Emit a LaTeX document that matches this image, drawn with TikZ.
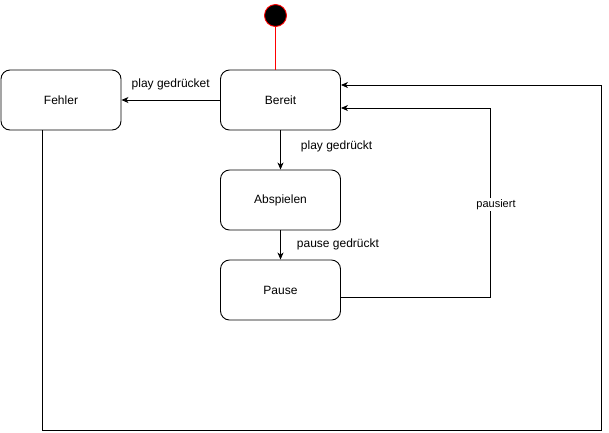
\documentclass[tikz,border=0pt]{standalone}
\usepackage{fontspec}
\setmainfont{Liberation Sans}
\usetikzlibrary{arrows.meta}

\begin{document}
\begin{tikzpicture}[x=1pt,y=-1pt,line width=0.9pt]

\tikzset{zustand/.style={draw, rounded corners=9pt, minimum width=120pt, minimum height=60pt, inner sep=0pt, font=\fontsize{12}{14}\selectfont}};
\tikzset{pfeil/.style={-{Stealth[length=7pt,width=6pt,inset=2pt]}}};
\tikzset{marke/.style={inner sep=0pt, font=\fontsize{12}{14}\selectfont}};
\useasboundingbox (0,0) rectangle (609,432);

\node[zustand] (fehler) at (61,100) {Fehler};
\node[zustand] (bereit) at (280.5,100) {Bereit};
\node[zustand] (abspielen) at (280.5,200) {Abspielen};
\node[zustand] (pause) at (280.5,290) {Pause};
\node[circle, fill=black, draw=red, minimum size=22pt, inner sep=0pt] (start) at (275.5,15.5) {};

\draw[red, line width=0.6pt] (start) -- (start |- bereit.north);
\draw[pfeil] (bereit) -- (fehler) node[midway, marke, above=10pt]{play gedrücket};
\draw[pfeil] (bereit) -- (abspielen) node[pos=0.4, marke, anchor=west, xshift=20pt]{play gedrückt};
\draw[pfeil] (abspielen) -- (pause) node[pos=0.47, marke, anchor=west, xshift=16pt]{pause gedrückt};

\coordinate (rechts) at (490,108);
\draw[pfeil] ([yshift=-7pt]pause.east) -| (rechts) -- ([yshift=-8pt]bereit.east)
  node[pos=0, below=90pt, xshift=6pt, fill=white, inner sep=1pt, font=\fontsize{11}{13}\selectfont]{pausiert};

\coordinate (ecke) at (601,430);
\draw[pfeil] ([xshift=-19pt]fehler.south) |- (ecke) |- ([yshift=15pt]bereit.east);

\end{tikzpicture}
\end{document}
